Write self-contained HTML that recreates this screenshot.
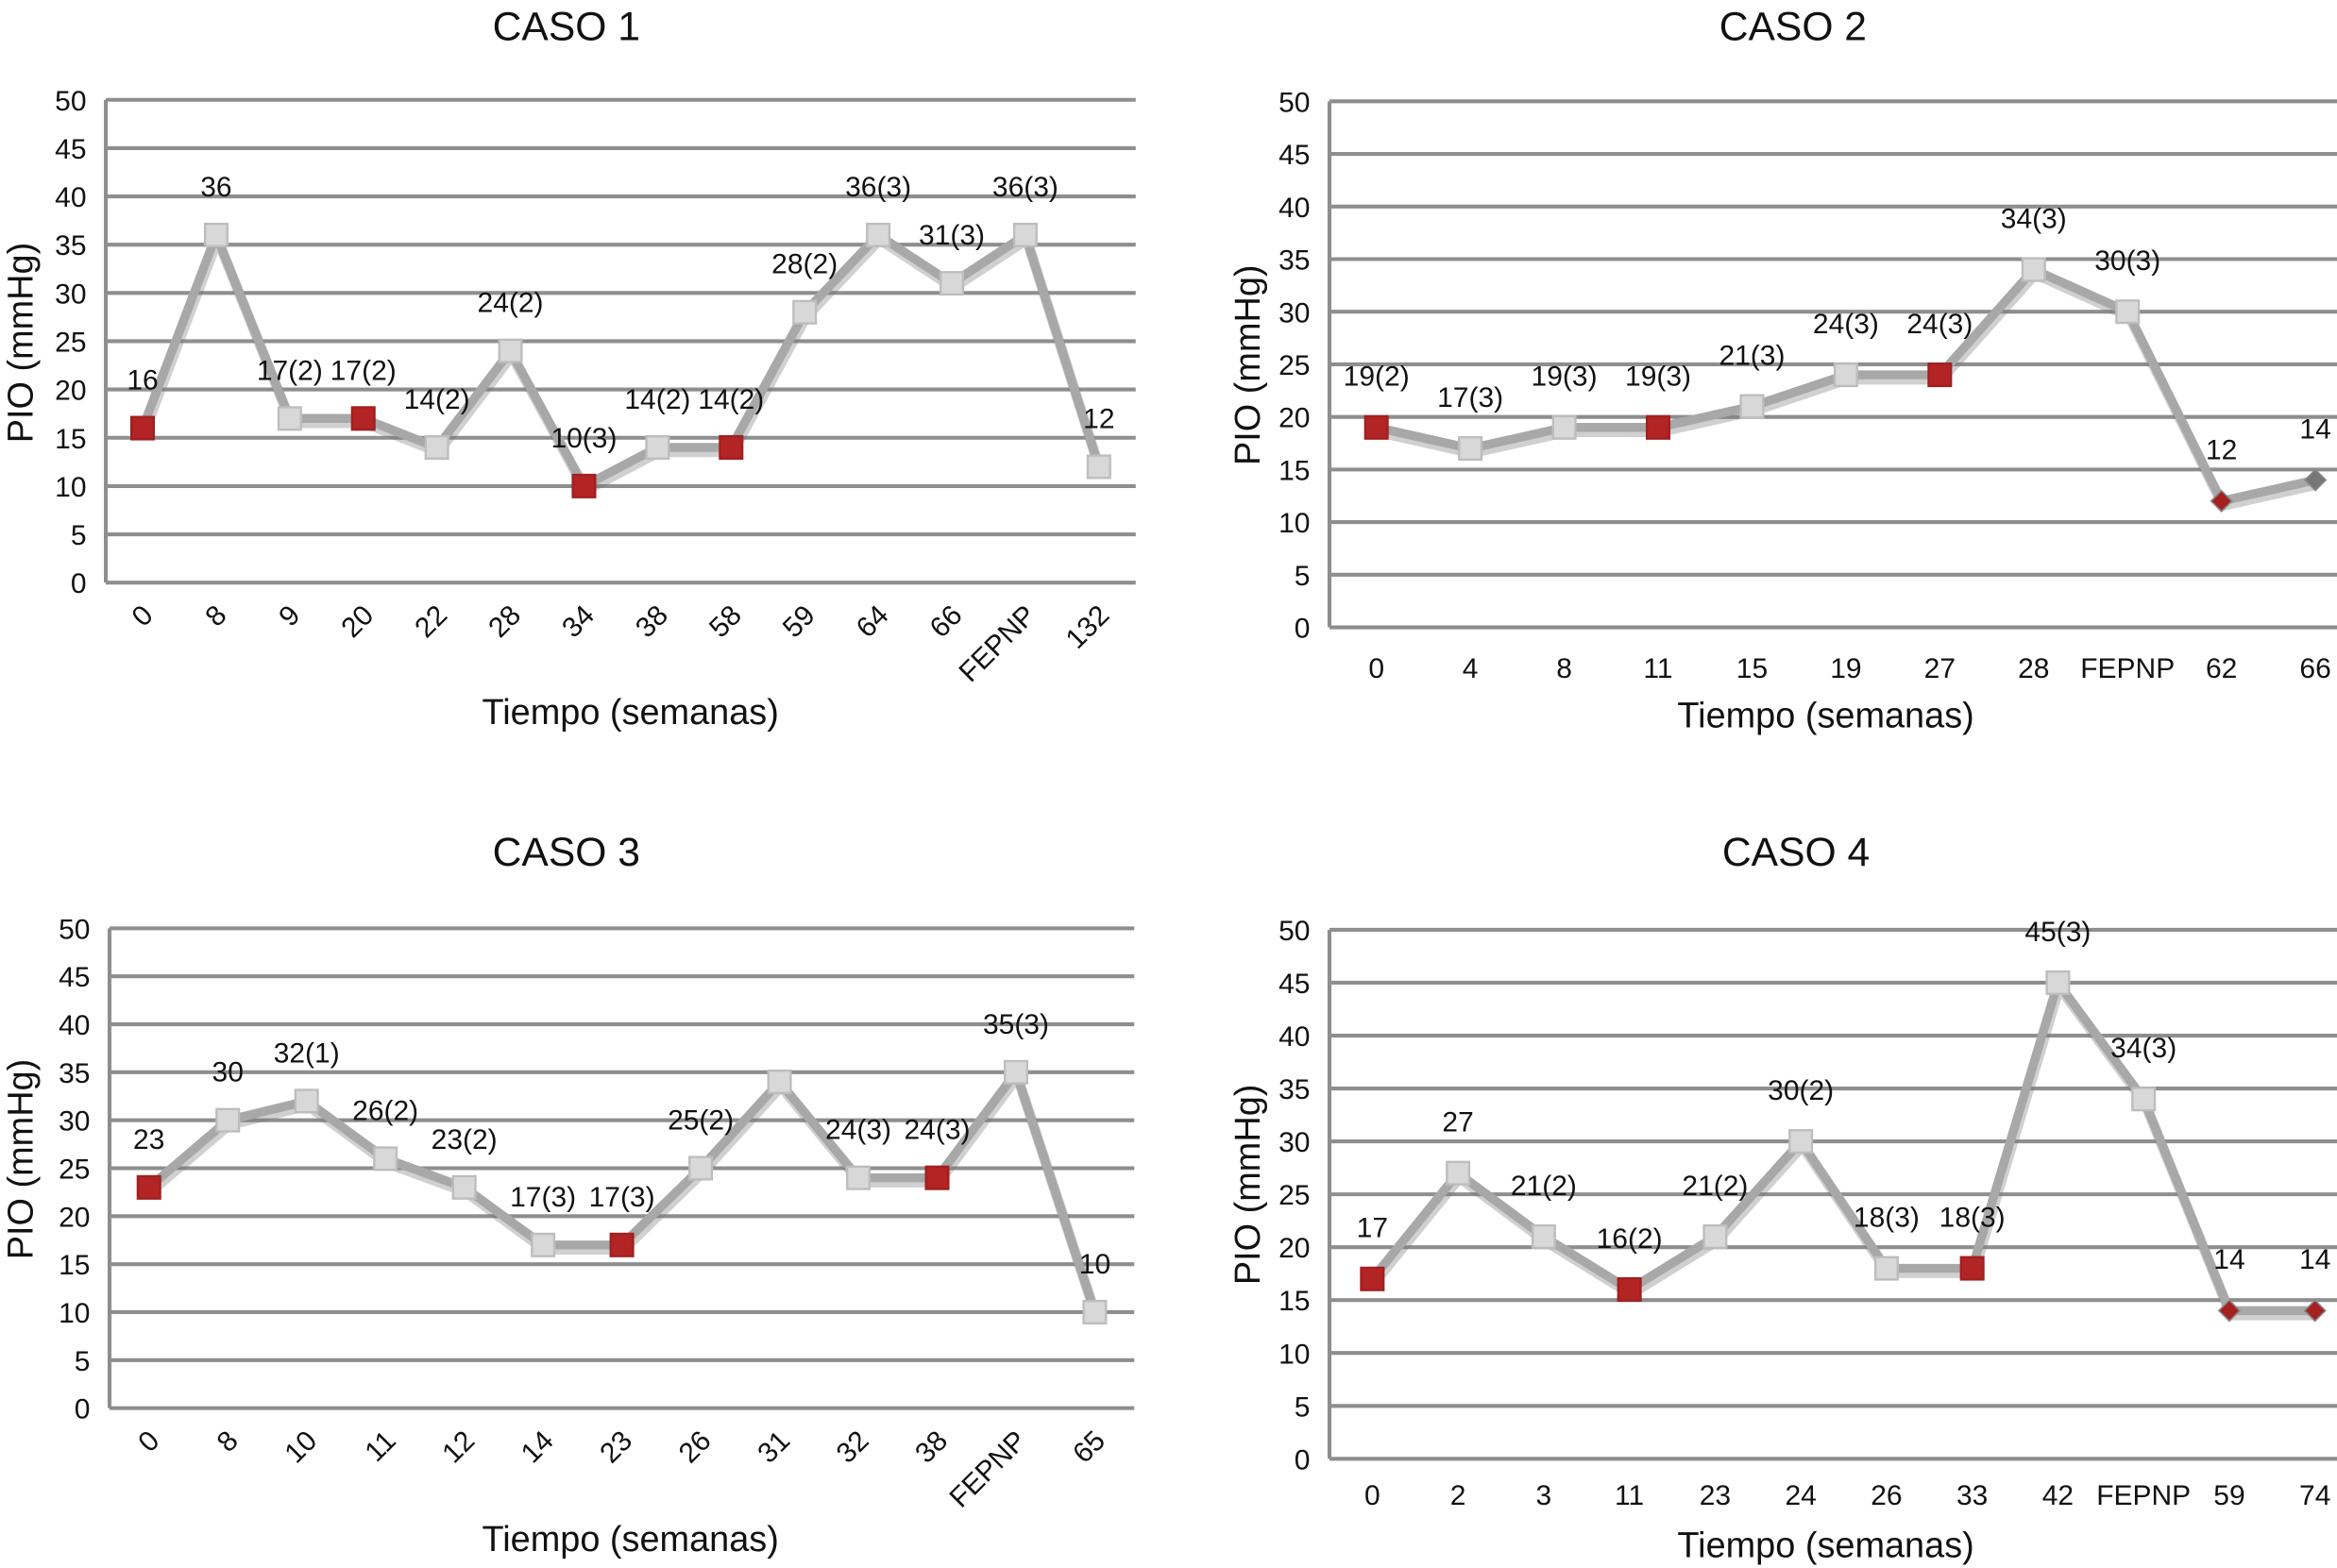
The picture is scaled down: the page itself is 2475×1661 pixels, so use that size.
<!DOCTYPE html>
<html><head><meta charset="utf-8"><style>
html,body{margin:0;padding:0;background:#fff}
svg{display:block}
text{font-family:"Liberation Sans",Arial,sans-serif;fill:#111}
</style></head><body>
<svg id="s" width="2475" height="1661" viewBox="0 0 1568 1052.3" xmlns="http://www.w3.org/2000/svg"></svg>
<script>
// CASO 1
const c1Categories = ["0","8","9","20","22","28","34","38","58","59","64","66","FEPNP","132"];
const c1Values = [16,36,17,17,14,24,10,14,14,28,36,31,36,12];
const c1Labels = ["16","36","17(2)","17(2)","14(2)","24(2)","10(3)","14(2)","14(2)","28(2)","36(3)","31(3)","36(3)","12"];
const c1Red = [0,3,6,8];
// CASO 2
const c2Categories = ["0","4","8","11","15","19","27","28","FEPNP","62","66"];
const c2Values = [19,17,19,19,21,24,24,34,30,12,14];
const c2Labels = ["19(2)","17(3)","19(3)","19(3)","21(3)","24(3)","24(3)","34(3)","30(3)","12","14"];
const c2Red = [0,3,6];
// CASO 3
const c3Categories = ["0","8","10","11","12","14","23","26","31","32","38","FEPNP","65"];
const c3Values = [23,30,32,26,23,17,17,25,34,24,24,35,10];
const c3Labels = ["23","30","32(1)","26(2)","23(2)","17(3)","17(3)","25(2)","","24(3)","24(3)","35(3)","10"];
const c3Red = [0,6,10];
// CASO 4
const c4Categories = ["0","2","3","11","23","24","26","33","42","FEPNP","59","74"];
const c4Values = [17,27,21,16,21,30,18,18,45,34,14,14];
const c4Labels = ["17","27","21(2)","16(2)","21(2)","30(2)","18(3)","18(3)","45(3)","34(3)","14","14"];
const c4Red = [0,3,7];
const yTicks = [0,5,10,15,20,25,30,35,40,45,50];

const NS="http://www.w3.org/2000/svg";
const svg=document.getElementById('s');
function mk(tag,attrs,parent){const e=document.createElementNS(NS,tag);for(const k in attrs)e.setAttribute(k,attrs[k]);(parent||svg).appendChild(e);return e;}

function drawChart(o){
  const g=mk('g',{});
  
  
  const n=o.cats.length;
  const band=(o.right-o.left)/n;
  const xs=i=>o.left+band*(i+0.5);
  const ys=v=>o.y0-(o.y0-o.y50)*v/50;
  const t=mk('text',{x:o.titleX,y:o.titleY,'font-size':27,'text-anchor':'middle'},g);t.textContent=o.title;
  
  
  // grid + ticks
  yTicks.forEach(v=>{
    const gl=mk('line',{x1:o.left,x2:o.right,y1:ys(v),y2:ys(v),stroke:'#8e8e8e','stroke-width':2.6},g);
    
    
    const tl=mk('text',{x:o.left-13,y:ys(v)+7,'font-size':19,'text-anchor':'end'},g);tl.textContent=v;
    
    
  });
  const ax=mk('line',{x1:o.left,x2:o.left,y1:o.y50,y2:o.y0,stroke:'#8e8e8e','stroke-width':2.6},g);
  
  
  // x labels
  o.cats.forEach((c,i)=>{
    let tl;
    if(o.rot){
      tl=mk('text',{x:xs(i)+8,y:o.xlabY,'font-size':19,'text-anchor':'end',transform:`rotate(-45 ${xs(i)+8} ${o.xlabY})`},g);
    } else {
      tl=mk('text',{x:xs(i),y:o.xlabY,'font-size':19,'text-anchor':'middle'},g);
    }
    tl.textContent=c;
    
    
  });
  const xt=mk('text',{x:o.xtX,y:o.xtY,'font-size':24,'text-anchor':'middle'},g);xt.textContent='Tiempo (semanas)';
  
  
  const yt=mk('text',{x:o.ytX,y:o.ytY,'font-size':24,'text-anchor':'middle',transform:`rotate(-90 ${o.ytX} ${o.ytY})`},g);yt.textContent='PIO (mmHg)';
  
  
  // line
  const pts=o.vals.map((v,i)=>xs(i)+','+ys(v)).join(' ');
  mk('polyline',{points:pts,fill:'none',stroke:'#777','stroke-width':7,opacity:0.35,transform:'translate(1,3)'},g);
  const pl=mk('polyline',{points:pts,fill:'none',stroke:'#a8a8a8','stroke-width':6,'stroke-linejoin':'round'},g);
  
  
  o.vals.forEach((v,i)=>{
    const x=xs(i),y=ys(v);
    const red=o.red.includes(i), dia=o.dia&&o.dia.includes(i);
    let m;
    if(dia){
      m=mk('polygon',{points:`${x},${y-7} ${x+7},${y} ${x},${y+7} ${x-7},${y}`,fill:o.diaGray&&i===n-1?'#777':'#a52020',stroke:'#888','stroke-width':1},g);
    } else {
      m=mk('rect',{x:x-7.5,y:y-7.5,width:15,height:15,fill:red?'#b32424':'#d8d8d8',stroke:red?'#a02020':'#bdbdbd','stroke-width':1.5},g);
    }
    
    
    if(o.labels[i]){
      const lt=mk('text',{x:x,y:y-o.lo,'font-size':19,'text-anchor':'middle'},g);lt.textContent=o.labels[i];
      
      
    }
  });
}
drawChart({name:'chart-caso-1',title:'CASO 1',titleX:380,titleY:27,left:71,right:762,y50:67,y0:391,cats:c1Categories,vals:c1Values,labels:c1Labels,red:c1Red,rot:true,xlabY:414,xtX:423,xtY:486,ytX:22,ytY:230,lo:26});
drawChart({name:'chart-caso-2',title:'CASO 2',titleX:1203,titleY:27,left:892,right:1585,y50:68,y0:421,cats:c2Categories,vals:c2Values,labels:c2Labels,red:c2Red,dia:[9,10],diaGray:true,rot:false,xlabY:455,xtX:1225,xtY:488,ytX:845,ytY:245,lo:28});
drawChart({name:'chart-caso-3',title:'CASO 3',titleX:380,titleY:581,left:73.5,right:761,y50:623,y0:945,cats:c3Categories,vals:c3Values,labels:c3Labels,red:c3Red,rot:true,xlabY:968,xtX:423,xtY:1041,ytX:22,ytY:778,lo:26});
drawChart({name:'chart-caso-4',title:'CASO 4',titleX:1205,titleY:581,left:892,right:1582,y50:624,y0:979,cats:c4Categories,vals:c4Values,labels:c4Labels,red:c4Red,dia:[10,11],rot:false,xlabY:1010,xtX:1225,xtY:1045,ytX:845,ytY:795,lo:28});
</script>
</body></html>
